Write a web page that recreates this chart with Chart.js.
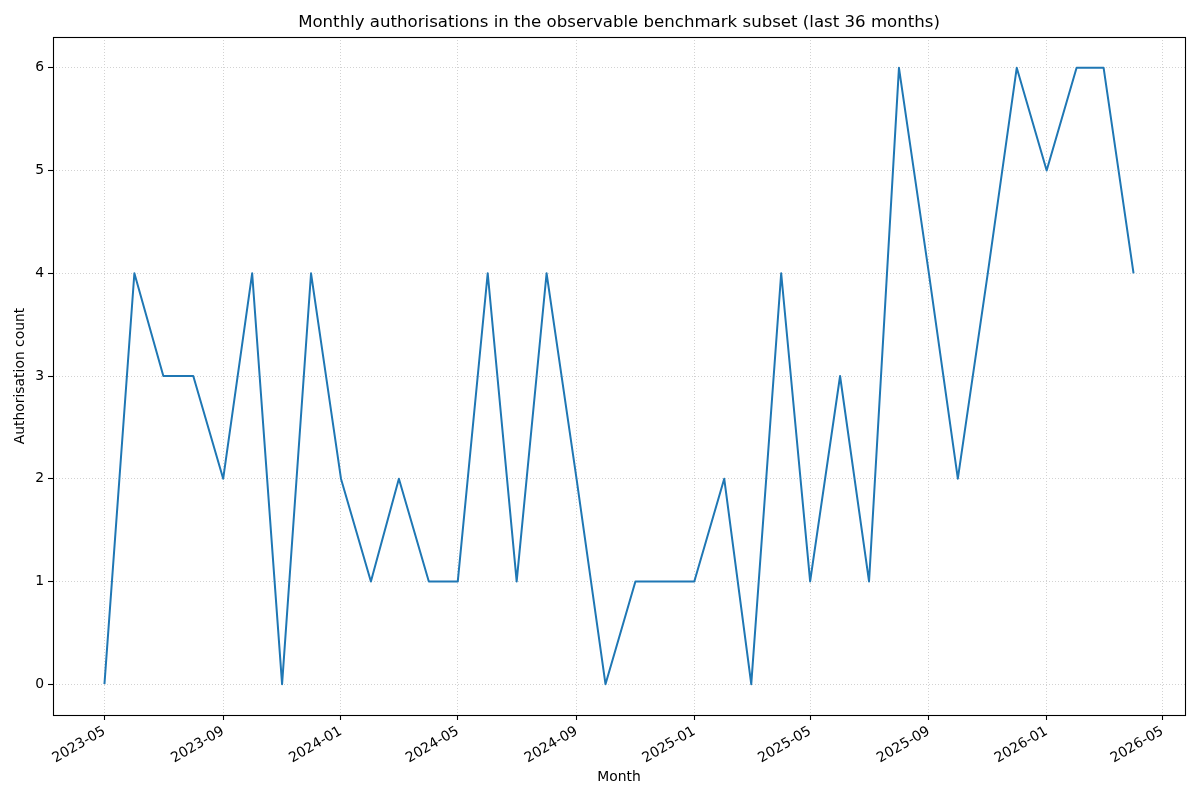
<!DOCTYPE html>
<html>
<head>
<meta charset="utf-8">
<script src="https://cdn.jsdelivr.net/npm/chart.js@4"></script>
<style>
  html, body { margin: 0; padding: 0; background: #fff; }
  #wrap { width: 1200px; height: 800px; }
</style>
</head>
<body>
<div id="wrap"><canvas id="chart" width="1200" height="800"></canvas></div>
<script>
// monthly authorisation counts
var months = ['2023-05','2023-06','2023-07','2023-08','2023-09','2023-10','2023-11','2023-12',
  '2024-01','2024-02','2024-03','2024-04','2024-05','2024-06','2024-07','2024-08','2024-09','2024-10','2024-11','2024-12',
  '2025-01','2025-02','2025-03','2025-04','2025-05','2025-06','2025-07','2025-08','2025-09','2025-10','2025-11','2025-12',
  '2026-01','2026-02','2026-03','2026-04'];
var counts = [0,4,3,3,2,4,0,4,
  2,1,2,1,1,4,1,4,2,0,1,1,
  1,2,0,4,1,3,1,6,4,2,4,6,
  5,6,6,4];
var xTickLabels = ['2023-05','2023-09','2024-01','2024-05','2024-09','2025-01','2025-05','2025-09','2026-01','2026-05'];
var yTickValues = [0,1,2,3,4,5,6];
var titleText = 'Monthly authorisations in the observable benchmark subset (last 36 months)';

function toDay(m) {
  var p = m.split('-');
  return Date.UTC(+p[0], +p[1] - 1, 1) / 86400000;
}
function fromDay(d) {
  var dt = new Date(d * 86400000);
  var mm = dt.getUTCMonth() + 1;
  return dt.getUTCFullYear() + '-' + (mm < 10 ? '0' + mm : mm);
}

var points = months.map(function (m, i) { return { x: toDay(m), y: counts[i] }; });
var first = points[0].x, last = points[points.length - 1].x;
var pad = (last - first) * 0.05;

var font = 'DejaVu Sans';
var gridColor = '#d2d2d2';

// black box round the plot area, and the title centred over it (like matplotlib)
var frame = {
  id: 'frame',
  afterDraw: function (chart) {
    var a = chart.chartArea, c = chart.ctx;
    c.save();
    c.strokeStyle = '#000';
    c.lineWidth = 1.1;
    c.strokeRect(Math.round(a.left) + 0.5, Math.round(a.top) + 0.5,
      Math.round(a.right - a.left), Math.round(a.bottom - a.top));
    c.fillStyle = '#000';
    c.font = '16.6px "' + font + '"';
    c.textAlign = 'center';
    c.textBaseline = 'middle';
    c.fillText(titleText, (a.left + a.right) / 2, 23);
    c.restore();
  }
};

new Chart(document.getElementById('chart'), {
  type: 'line',
  data: {
    datasets: [{
      label: 'Authorisations',
      data: points,
      borderColor: '#1f77b4',
      borderWidth: 2,
      borderJoinStyle: 'round',
      borderCapStyle: 'butt',
      pointRadius: 0,
      fill: false,
      tension: 0
    }]
  },
  options: {
    responsive: false,
    animation: false,
    devicePixelRatio: 1,
    layout: { padding: { left: 8, right: 15, top: 37, bottom: 10 } },
    plugins: {
      legend: { display: false },
      tooltip: { enabled: false },
      title: { display: false }
    },
    scales: {
      x: {
        type: 'linear',
        min: first - pad,
        max: last + pad,
        afterBuildTicks: function (s) {
          s.ticks = xTickLabels.map(function (l) { return { value: toDay(l) }; });
        },
        afterFit: function (s) { s.height = 75; },
        ticks: {
          autoSkip: false,
          minRotation: 30,
          maxRotation: 30,
          padding: 3,
          color: '#000',
          font: { family: font, size: 14 },
          callback: function (v) { return fromDay(v); }
        },
        grid: {
          color: gridColor,
          lineWidth: 1,
          tickColor: '#000',
          tickLength: 5,
          tickWidth: 1.1,
          tickBorderDash: []
        },
        border: { display: false, dash: [1, 2] },
        title: {
          display: true,
          text: 'Month',
          color: '#000',
          font: { family: font, size: 13.9 }
        }
      },
      y: {
        min: -0.3,
        max: 6.3,
        afterBuildTicks: function (s) {
          s.ticks = yTickValues.map(function (v) { return { value: v }; });
        },
        afterFit: function (s) { s.width = 45; },
        ticks: {
          padding: 4,
          color: '#000',
          font: { family: font, size: 13.9 }
        },
        grid: {
          color: gridColor,
          lineWidth: 1,
          tickColor: '#000',
          tickLength: 5,
          tickWidth: 1.1,
          tickBorderDash: []
        },
        border: { display: false, dash: [1, 2] },
        title: {
          display: true,
          text: 'Authorisation count',
          color: '#000',
          font: { family: font, size: 13.9 }
        }
      }
    }
  },
  plugins: [frame]
});
</script>
</body>
</html>
